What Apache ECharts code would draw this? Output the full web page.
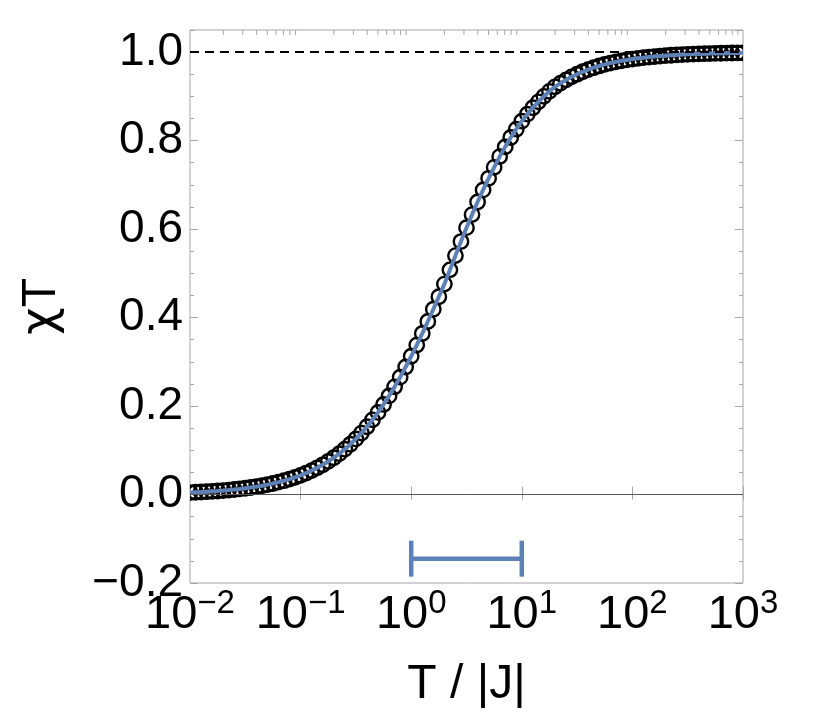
<!DOCTYPE html>
<html>
<head>
    <meta charset="utf-8">
    <title>chi T vs T</title>
    <script src="https://cdn.jsdelivr.net/npm/echarts@6/dist/echarts.min.js"></script>
    <style>
        body { margin: 0; background: #fff; }
    </style>
</head>

<body>
    <div id="main" style="width: 820px;height:720px;"></div>
    <script type="text/javascript">
        // temperatures T/|J| (log spaced points)
        var tempT = [
            0.01, 0.01122, 0.01259, 0.01413, 0.01585, 0.01778, 0.01995, 0.02239, 0.02512, 0.02818,
            0.03162, 0.03548, 0.03981, 0.04467, 0.05012, 0.05623, 0.0631, 0.07079, 0.07943, 0.08913,
            0.1, 0.1122, 0.1259, 0.1413, 0.1585, 0.1778, 0.1995, 0.2239, 0.2512, 0.2818,
            0.3162, 0.3548, 0.3981, 0.4467, 0.5012, 0.5623, 0.631, 0.7079, 0.7943, 0.8913,
            1, 1.122, 1.259, 1.413, 1.585, 1.778, 1.995, 2.239, 2.512, 2.818,
            3.162, 3.548, 3.981, 4.467, 5.012, 5.623, 6.31, 7.079, 7.943, 8.913,
            10, 11.22, 12.59, 14.13, 15.85, 17.78, 19.95, 22.39, 25.12, 28.18,
            31.62, 35.48, 39.81, 44.67, 50.12, 56.23, 63.1, 70.79, 79.43, 89.13,
            100, 112.2, 125.9, 141.3, 158.5, 177.8, 199.5, 223.9, 251.2, 281.8,
            316.2, 354.8, 398.1, 446.7, 501.2, 562.3, 631, 707.9, 794.3, 891.3,
            1000
        ];
        // chi*T
        var chiT = [
            0.0045, 0.0051, 0.0057, 0.0064, 0.0072, 0.0080, 0.0090, 0.0101, 0.0113, 0.0127,
            0.0142, 0.0159, 0.0178, 0.0199, 0.0223, 0.0249, 0.0279, 0.0312, 0.0349, 0.0389,
            0.0435, 0.0485, 0.0541, 0.0604, 0.0672, 0.0748, 0.0831, 0.0924, 0.1025, 0.1136,
            0.1257, 0.1389, 0.1532, 0.1688, 0.1856, 0.2036, 0.2229, 0.2434, 0.2653, 0.2883,
            0.3125, 0.3378, 0.3640, 0.3911, 0.4188, 0.4470, 0.4756, 0.5078, 0.5400, 0.5718,
            0.6032, 0.6327, 0.6612, 0.6886, 0.7148, 0.7396, 0.7639, 0.7858, 0.8070, 0.8258,
            0.8439, 0.8598, 0.8743, 0.8876, 0.9001, 0.9113, 0.9215, 0.9298, 0.9373, 0.9441,
            0.9501, 0.9556, 0.9604, 0.9648, 0.9687, 0.9722, 0.9753, 0.9779, 0.9803, 0.9824,
            0.9843, 0.9859, 0.9875, 0.9888, 0.9900, 0.9911, 0.9920, 0.9929, 0.9937, 0.9944,
            0.9950, 0.9955, 0.9960, 0.9964, 0.9968, 0.9972, 0.9975, 0.9977, 0.9980, 0.9982,
            0.9984
        ];
        // horizontal range bar: [from, to, level]
        var rangeBar = [[1, 10, -0.145]];
        var refLevel = 1.0;
        var zeroLevel = 0.0;
        var yMin = -0.2, yMax = 1.05;
        var xMin = 0.01, xMax = 1000;
        // minor log ticks on the top frame
        var topMinorTicks = [
            0.02, 0.03, 0.04, 0.05, 0.06, 0.07, 0.08, 0.09,
            0.2, 0.3, 0.4, 0.5, 0.6, 0.7, 0.8, 0.9,
            2, 3, 4, 5, 6, 7, 8, 9,
            20, 30, 40, 50, 60, 70, 80, 90,
            200, 300, 400, 500, 600, 700, 800, 900
        ];

        var blue = '#5E81B5';
        var frameGray = '#a6a6a6';
        var font = "'Liberation Sans', Arial, Helvetica, sans-serif";

        var pts = tempT.map(function (t, i) { return [t, chiT[i]]; });

        var chart = echarts.init(document.getElementById('main'));

        function yAxisDef(pos, interval, len, labels) {
            return {
                type: 'value', position: pos, offset: 0,
                min: yMin, max: yMax, interval: interval,
                axisLine: { show: false },
                splitLine: { show: false },
                axisTick: { show: true, inside: true, length: len, lineStyle: { color: frameGray, width: 1 } },
                axisLabel: labels ? {
                    show: true, margin: 7, color: '#000', fontSize: 46, fontFamily: font,
                    showMaxLabel: false,
                    formatter: function (v) {
                        var s = v.toFixed(1);
                        return s.charAt(0) === '-' ? '\u2212' + s.slice(1) : s;
                    }
                } : { show: false },
                name: labels ? '{c|\u03c7}{t|T}' : '',
                nameLocation: 'middle',
                nameRotate: 90,
                nameGap: 124,
                nameTextStyle: {
                    color: '#000', fontSize: 48, fontFamily: font,
                    rich: {
                        c: { fontSize: 48, fontFamily: "'DejaVu Sans', sans-serif", color: '#000' },
                        t: { fontSize: 48, fontFamily: font, color: '#000' }
                    }
                }
            };
        }

        var option = {
            animation: false,
            backgroundColor: '#fff',
            grid: {
                left: 190, right: 77, top: 30, bottom: 137,
                show: true, borderColor: frameGray, borderWidth: 1
            },
            xAxis: [
                {
                    type: 'log', logBase: 10, min: xMin, max: xMax,
                    position: 'bottom',
                    axisLine: { show: false },
                    splitLine: { show: false },
                    axisTick: { show: true, inside: true, length: 8, lineStyle: { color: frameGray } },
                    axisLabel: {
                        margin: 4, color: '#000', fontFamily: font,
                        formatter: function (v) {
                            var e = Math.round(Math.log(v) / Math.LN10);
                            var es = e < 0 ? '\u2212' + (-e) : '' + e;
                            return '{b|10}{s|' + es + '}';
                        },
                        rich: {
                            b: { fontSize: 47, lineHeight: 52, verticalAlign: 'bottom', fontFamily: font, color: '#000' },
                            s: { fontSize: 33, lineHeight: 22, verticalAlign: 'top', fontFamily: font, color: '#000' }
                        }
                    },
                    name: 'T / |J|',
                    nameLocation: 'middle',
                    nameGap: 78,
                    nameTextStyle: { color: '#000', fontSize: 48, fontFamily: font }
                },
                {
                    type: 'log', logBase: 10, min: xMin, max: xMax,
                    position: 'top',
                    axisLine: { show: false },
                    splitLine: { show: false },
                    axisTick: { show: true, inside: true, length: 5, lineStyle: { color: frameGray } },
                    axisLabel: { show: false }
                }
            ],
            yAxis: [
                yAxisDef('left', 0.2, 8, true),
                yAxisDef('left', 0.05, 4, false),
                yAxisDef('right', 0.2, 8, false),
                yAxisDef('right', 0.05, 4, false)
            ],
            series: [
                {
                    // reference lines
                    type: 'line',
                    data: [],
                    markLine: {
                        silent: true,
                        symbol: 'none',
                        label: { show: false },
                        data: [
                            { yAxis: zeroLevel, lineStyle: { color: '#555', width: 1, type: 'solid' } },
                            { yAxis: refLevel, lineStyle: { color: '#000', width: 2, type: [9, 6] } }
                        ]
                    }
                },
                {
                    type: 'custom',
                    data: topMinorTicks.map(function (v) { return [v]; }),
                    encode: { x: 0 },
                    silent: true,
                    renderItem: function (params, api) {
                        var p = api.coord([api.value(0), yMax]);
                        return {
                            type: 'line',
                            shape: { x1: p[0], y1: p[1], x2: p[0], y2: p[1] + 5 },
                            style: { stroke: frameGray, lineWidth: 1 }
                        };
                    }
                },
                {
                    // open circles, clipped to the frame
                    type: 'custom',
                    data: pts,
                    encode: { x: 0, y: 1 },
                    clip: true,
                    z: 3,
                    renderItem: function (params, api) {
                        var p = api.coord([api.value(0), api.value(1)]);
                        return {
                            type: 'circle',
                            shape: { cx: p[0], cy: p[1], r: 7.2 },
                            style: { fill: null, stroke: '#000', lineWidth: 2.4 }
                        };
                    }
                },
                {
                    type: 'line',
                    data: pts,
                    showSymbol: false,
                    smooth: false,
                    lineStyle: { color: blue, width: 4 },
                    z: 4
                },
                {
                    type: 'custom',
                    data: rangeBar,
                    encode: { x: [0, 1], y: 2 },
                    z: 4,
                    renderItem: function (params, api) {
                        var a = api.coord([api.value(0), api.value(2)]);
                        var b = api.coord([api.value(1), api.value(2)]);
                        var h = 18;
                        var st = { stroke: blue, lineWidth: 4.5 };
                        return {
                            type: 'group',
                            children: [
                                { type: 'line', shape: { x1: a[0], y1: a[1], x2: b[0], y2: b[1] }, style: st },
                                { type: 'line', shape: { x1: a[0], y1: a[1] - h, x2: a[0], y2: a[1] + h }, style: st },
                                { type: 'line', shape: { x1: b[0], y1: b[1] - h, x2: b[0], y2: b[1] + h }, style: st }
                            ]
                        };
                    }
                }
            ]
        };

        chart.setOption(option);
    </script>
</body>
</html>
